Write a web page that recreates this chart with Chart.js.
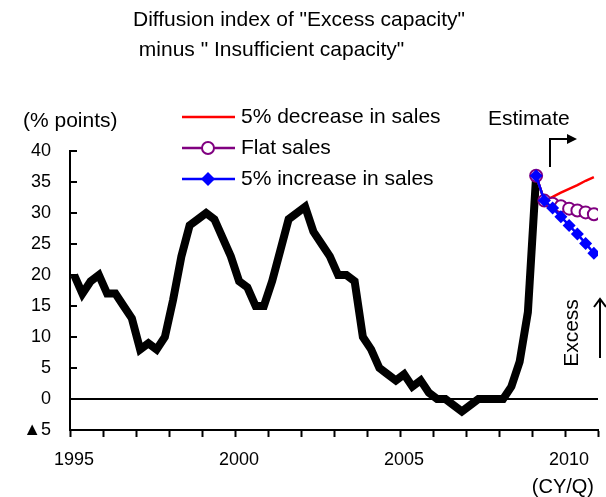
<!DOCTYPE html>
<html>
<head>
<meta charset="utf-8">
<script src="https://cdn.jsdelivr.net/npm/chart.js@4.4.1/dist/chart.umd.min.js"></script>
<style>
  html, body { margin: 0; padding: 0; background: #fff; }
  #wrap { width: 606px; height: 497px; }
</style>
</head>
<body>
<div id="wrap"><canvas id="c" width="606" height="497"></canvas></div>
<script>
// Quarterly DI, 1995 Q1 .. 2009 Q1 (actual)
const startYear = 1995;
const actualDI = [
  20, 17, 19, 20,   // 1995
  17, 17, 15, 13,   // 1996
   8,  9,  8, 10,   // 1997
  16, 23, 28, 29,   // 1998
  30, 29, 26, 23,   // 1999
  19, 18, 15, 15,   // 2000
  19, 24, 29, 30,   // 2001
  31, 27, 25, 23,   // 2002
  20, 20, 19, 10,   // 2003
   8,  5,  4,  3,   // 2004
   4,  2,  3,  1,   // 2005
   0,  0, -1, -2,   // 2006
  -1,  0,  0,  0,   // 2007
   0,  2,  6, 14,   // 2008
  36                // 2009 Q1
];
// Estimates, 2009 Q1 .. 2010 Q4
const estimateStart = 56;   // quarter index of 2009 Q1
const decreaseDI = [36, 32, 32.6, 33.3, 33.9, 34.5, 35.2, 35.8];
const flatDI     = [36, 32, 31.5, 31.1, 30.7, 30.4, 30.1, 29.8];
const increaseDI = [36, 32, 30.8, 29.4, 28.0, 26.6, 25.1, 23.5];

const seriesNames = ['5% decrease in sales', 'Flat sales', '5% increase in sales'];
const yTicks = [-5, 0, 5, 10, 15, 20, 25, 30, 35, 40];
const yearLabels = ['1995', '2000', '2005', '2010'];

// each quarter sits in the middle of its slot on the axis
const toPoints = (vals, offset) => vals.map((v, i) => ({ x: offset + i + 0.5, y: v }));

const SANS = '"Liberation Sans", Arial, sans-serif';

const annotations = {
  id: 'annotations',
  afterDraw(chart) {
    const { ctx, chartArea, scales } = chart;
    const ys = scales.y;
    ctx.save();

    // inward tick marks on the value axis
    ctx.strokeStyle = '#000';
    ctx.lineWidth = 2;
    yTicks.forEach(v => {
      const py = Math.round(ys.getPixelForValue(v));
      ctx.beginPath();
      ctx.moveTo(chartArea.left, py);
      ctx.lineTo(chartArea.left + 7, py);
      ctx.stroke();
    });

    ctx.fillStyle = '#000';
    ctx.textBaseline = 'middle';
    ctx.textAlign = 'left';
    ctx.font = '21px ' + SANS;
    ctx.fillText('Diffusion index of "Excess capacity"', 133, 20);
    ctx.fillText(' minus " Insufficient capacity"', 133, 50);
    ctx.fillText('(% points)', 23, 121);
    ctx.fillText('Estimate', 488, 119);

    ctx.font = '20px ' + SANS;
    ctx.textAlign = 'right';
    ctx.fillText('(CY/Q)', 594, 487);

    // legend
    const ds = chart.data.datasets;
    ctx.font = '21px ' + SANS;
    ctx.textAlign = 'left';
    [1, 2, 3].forEach((di, row) => {
      const d = ds[di];
      const ly = 117 + row * 31;
      ctx.strokeStyle = d.borderColor;
      ctx.lineWidth = 2.5;
      ctx.beginPath();
      ctx.moveTo(182, ly);
      ctx.lineTo(235, ly);
      ctx.stroke();
      if (d.pointStyle === 'circle') {
        ctx.beginPath();
        ctx.arc(208, ly, 6, 0, Math.PI * 2);
        ctx.fillStyle = d.pointBackgroundColor;
        ctx.fill();
        ctx.lineWidth = 2;
        ctx.strokeStyle = d.pointBorderColor;
        ctx.stroke();
      } else if (d.pointStyle === 'rectRot') {
        ctx.beginPath();
        ctx.moveTo(208, ly - 7);
        ctx.lineTo(215, ly);
        ctx.lineTo(208, ly + 7);
        ctx.lineTo(201, ly);
        ctx.closePath();
        ctx.fillStyle = d.pointBackgroundColor;
        ctx.fill();
      }
      ctx.fillStyle = '#000';
      ctx.fillText(d.label, 241, ly);
    });

    // "Estimate" bent arrow
    ctx.strokeStyle = '#000';
    ctx.fillStyle = '#000';
    ctx.lineWidth = 2;
    ctx.beginPath();
    ctx.moveTo(550, 167);
    ctx.lineTo(550, 139);
    ctx.lineTo(568, 139);
    ctx.stroke();
    ctx.beginPath();
    ctx.moveTo(577, 139);
    ctx.lineTo(567, 134);
    ctx.lineTo(567, 144);
    ctx.closePath();
    ctx.fill();

    // "Excess" with upward arrow
    ctx.save();
    ctx.translate(572, 333);
    ctx.rotate(-Math.PI / 2);
    ctx.textAlign = 'center';
    ctx.font = '21px ' + SANS;
    ctx.fillText('Excess', 0, 0);
    ctx.restore();
    ctx.lineWidth = 2;
    ctx.beginPath();
    ctx.moveTo(600, 358);
    ctx.lineTo(600, 299);
    ctx.moveTo(594, 307);
    ctx.lineTo(600, 299);
    ctx.lineTo(606, 307);
    ctx.stroke();

    ctx.restore();
  }
};

new Chart(document.getElementById('c'), {
  type: 'line',
  data: {
    datasets: [
      {
        label: 'Actual',
        data: toPoints(actualDI, 0),
        borderColor: '#000',
        borderWidth: 8,
        borderJoinStyle: 'miter',
        borderCapStyle: 'butt',
        pointRadius: 0,
        tension: 0,
        order: 4
      },
      {
        label: seriesNames[0],
        data: toPoints(decreaseDI, estimateStart),
        borderColor: '#ff0000',
        borderWidth: 2.5,
        pointRadius: 0,
        pointStyle: false,
        tension: 0,
        order: 3
      },
      {
        label: seriesNames[1],
        data: toPoints(flatDI, estimateStart),
        borderColor: '#800080',
        borderWidth: 2.5,
        pointStyle: 'circle',
        pointRadius: 6,
        pointBorderWidth: 2,
        pointBorderColor: '#800080',
        pointBackgroundColor: '#ffffff',
        tension: 0,
        order: 2
      },
      {
        label: seriesNames[2],
        data: toPoints(increaseDI, estimateStart),
        borderColor: '#0000ff',
        borderWidth: 2.5,
        pointStyle: 'rectRot',
        pointRadius: 6.5,
        pointBorderWidth: 0,
        pointBorderColor: '#0000ff',
        pointBackgroundColor: '#0000ff',
        tension: 0,
        order: 1
      }
    ]
  },
  options: {
    responsive: false,
    animation: false,
    events: [],
    layout: { padding: { top: 151, right: 2, bottom: 27, left: 0 } },
    plugins: {
      legend: { display: false },
      title: { display: false },
      tooltip: { enabled: false }
    },
    scales: {
      x: {
        type: 'linear',
        min: 0,
        max: 64,
        afterBuildTicks(scale) {
          const t = [];
          for (let v = 0; v <= 64; v += 4) t.push({ value: v });
          scale.ticks = t;
        },
        afterFit(scale) {
          scale.height = 40;
          scale.paddingLeft = 0;
          scale.paddingRight = 0;
        },
        border: { display: true, color: '#000', width: 2 },
        grid: {
          display: true,
          drawOnChartArea: false,
          drawTicks: true,
          tickLength: 7,
          tickWidth: 2,
          tickColor: '#000'
        },
        ticks: {
          autoSkip: false,
          maxRotation: 0,
          padding: 12,
          labelOffset: 4,
          color: '#000',
          font: { family: SANS, size: 18 },
          callback(value) {
            return value % 20 === 0 ? yearLabels[value / 20] : '';
          }
        }
      },
      y: {
        min: -5,
        max: 40,
        afterBuildTicks(scale) { scale.ticks = yTicks.map(v => ({ value: v })); },
        afterFit(scale) { scale.width = 70; },
        border: { display: true, color: '#000', width: 2 },
        grid: {
          display: true,
          drawOnChartArea: true,
          drawTicks: false,
          lineWidth: 2,
          color: ctx => (ctx.tick && ctx.tick.value === 0 ? '#000' : 'rgba(0,0,0,0)')
        },
        ticks: {
          padding: 19,
          color: '#000',
          font: { family: SANS, size: 18 },
          callback(value) {
            return value < 0 ? '▲' + Math.abs(value) : String(value);
          }
        }
      }
    }
  },
  plugins: [annotations]
});
</script>
</body>
</html>
